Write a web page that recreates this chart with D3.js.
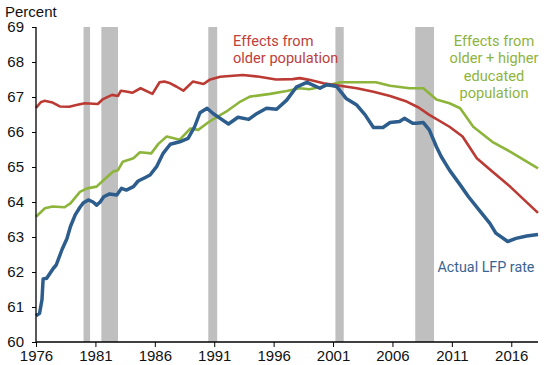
<!DOCTYPE html>
<html><head><meta charset="utf-8">
<script src="https://cdn.jsdelivr.net/npm/d3@7"></script>
<style>body{margin:0;background:#fff}svg{display:block}</style>
</head><body><svg id="c" width="550" height="365"></svg>
<script>
const xTicks = [1976,1981,1986,1991,1996,2001,2006,2011,2016];
const yTicks = [60,61,62,63,64,65,66,67,68,69];
const recessions = [[1980.0,1980.55],[1981.5,1982.9],[1990.5,1991.25],[2001.2,2001.9],[2007.92,2009.5]];

const actualLFP = [
[1976.0,60.75],[1976.3,60.82],[1976.5,61.2],[1976.6,61.8],[1976.9,61.82],[1977.45,62.1],[1977.7,62.2],
[1978.2,62.65],[1978.6,62.95],[1978.9,63.3],[1979.3,63.63],[1979.7,63.85],[1980.0,63.98],[1980.4,64.06],
[1980.8,64.0],[1981.1,63.91],[1981.4,64.0],[1981.7,64.15],[1982.2,64.23],[1982.8,64.2],[1983.2,64.39],
[1983.6,64.34],[1984.2,64.44],[1984.6,64.6],[1985.2,64.7],[1985.6,64.77],[1986.15,65.01],[1986.7,65.39],
[1987.3,65.65],[1988.1,65.72],[1988.8,65.82],[1989.35,66.15],[1989.8,66.55],[1990.4,66.68],[1990.9,66.53],
[1991.5,66.39],[1992.2,66.23],[1993.0,66.42],[1993.9,66.36],[1994.6,66.53],[1995.4,66.68],[1996.25,66.65],
[1997.1,66.91],[1997.9,67.28],[1998.8,67.42],[1999.9,67.25],[2000.45,67.35],[2001.0,67.32],[2001.3,67.3],
[2002.1,66.96],[2003.0,66.77],[2003.7,66.49],[2004.4,66.13],[2005.2,66.13],[2005.8,66.27],[2006.6,66.3],
[2007.0,66.39],[2007.7,66.25],[2008.0,66.25],[2008.6,66.27],[2009.1,66.06],[2009.7,65.58],[2010.1,65.3],
[2010.8,64.91],[2011.7,64.49],[2012.4,64.15],[2013.3,63.77],[2014.2,63.39],[2014.7,63.11],[2015.7,62.87],
[2016.4,62.96],[2017.3,63.03],[2018.25,63.07]];

const olderPop = [
[1976.0,66.69],[1976.4,66.85],[1976.7,66.89],[1977.4,66.84],[1978.0,66.73],[1978.8,66.72],[1979.4,66.77],
[1980.1,66.82],[1981.2,66.8],[1981.6,66.93],[1982.4,67.06],[1982.9,67.03],[1983.15,67.18],[1983.7,67.15],
[1984.1,67.12],[1984.8,67.25],[1985.8,67.09],[1986.4,67.42],[1986.8,67.44],[1987.3,67.39],[1987.8,67.3],
[1988.4,67.18],[1989.2,67.44],[1990.1,67.37],[1990.6,67.49],[1991.5,67.58],[1993.4,67.63],[1994.8,67.58],
[1996.2,67.5],[1997.6,67.51],[1998.2,67.54],[1999.0,67.49],[2000.2,67.39],[2001.6,67.32],[2003.0,67.25],
[2004.4,67.15],[2005.8,67.03],[2007.2,66.87],[2008.2,66.7],[2009.1,66.49],[2010.8,66.15],[2011.9,65.87],
[2013.1,65.25],[2014.4,64.87],[2015.9,64.44],[2018.25,63.69]];

const olderEducated = [
[1976.0,63.58],[1976.75,63.82],[1977.4,63.87],[1978.4,63.85],[1978.9,63.96],[1979.7,64.29],[1980.3,64.39],
[1981.1,64.44],[1981.7,64.63],[1982.5,64.87],[1982.9,64.91],[1983.3,65.15],[1984.2,65.25],[1984.75,65.42],
[1985.7,65.39],[1986.3,65.66],[1987.0,65.87],[1988.1,65.78],[1989.0,66.1],[1989.65,66.06],[1990.6,66.3],
[1992.0,66.58],[1993.2,66.87],[1994.0,67.01],[1995.7,67.09],[1997.1,67.17],[1998.2,67.25],[1999.0,67.22],
[2000.2,67.3],[2001.6,67.42],[2004.6,67.42],[2005.8,67.32],[2007.45,67.25],[2008.6,67.25],[2009.7,66.93],
[2010.8,66.82],[2011.7,66.68],[2012.8,66.15],[2014.4,65.72],[2015.9,65.44],[2018.25,64.96]];

const svg = d3.select("#c");
const x = d3.scaleLinear().domain([1976, 2018.25]).range([36, 538]);
const y = d3.scaleLinear().domain([60, 69]).range([342, 27]);

svg.append("g").selectAll("rect").data(recessions).join("rect")
  .attr("x", d => x(d[0])).attr("width", d => x(d[1]) - x(d[0]))
  .attr("y", y(69)).attr("height", y(60) - y(69)).attr("fill", "#bfbfbf");

const line = d3.line().x(d => x(d[0])).y(d => y(d[1]));
svg.append("path").datum(olderEducated).attr("d", line).attr("fill","none")
  .attr("stroke","#8db43b").attr("stroke-width",2.6).attr("stroke-linejoin","round");
svg.append("path").datum(olderPop).attr("d", line).attr("fill","none")
  .attr("stroke","#bb3a33").attr("stroke-width",2.6).attr("stroke-linejoin","round");
svg.append("path").datum(actualLFP).attr("d", line).attr("fill","none")
  .attr("stroke","#2c5d8c").attr("stroke-width",3.5).attr("stroke-linejoin","round");

const axisFont = "'Liberation Sans', Arial, sans-serif";
const yAxis = svg.append("g").attr("transform","translate(36,0)")
  .call(d3.axisLeft(y).tickValues(yTicks).tickSize(4).tickPadding(8).tickFormat(d3.format("d")));
const xAxis = svg.append("g").attr("transform","translate(0,342)")
  .call(d3.axisBottom(x).tickValues(xTicks).tickSize(5).tickPadding(3).tickFormat(d3.format("d")));
[yAxis, xAxis].forEach(a => {
  a.selectAll("text").attr("font-family", axisFont).attr("font-size", "15px").attr("fill", "#111");
  a.selectAll("line").attr("stroke", "#000");
  a.select(".domain").attr("stroke", "#000").attr("stroke-width", 1.3);
});
xAxis.select(".domain").attr("d", "M36,0H538");
yAxis.select(".domain").attr("d", "M0,27V342");

svg.append("text").attr("x", 5).attr("y", 17).attr("font-family", axisFont)
  .attr("font-size", "15px").attr("fill", "#111").text("Percent");

const lblFont = "Roboto, 'Open Sans', sans-serif";
const red = svg.append("text").attr("font-family", lblFont).attr("font-size","14.6px").attr("fill","#c0403a");
red.append("tspan").attr("x",233).attr("y",46).text("Effects from");
red.append("tspan").attr("x",233).attr("y",62.5).text("older population");

const grn = svg.append("text").attr("font-family", lblFont).attr("font-size","14.6px").attr("fill","#8db43e")
  .attr("text-anchor","middle");
["Effects from","older + higher","educated","population"].forEach((t,i) =>
  grn.append("tspan").attr("x",494).attr("y",46 + i*17.4).text(t));

svg.append("text").attr("x",437.5).attr("y",271.5).attr("font-family", lblFont).attr("font-size","14.3px")
  .attr("fill","#3a6593").text("Actual LFP rate");
</script></body></html>
